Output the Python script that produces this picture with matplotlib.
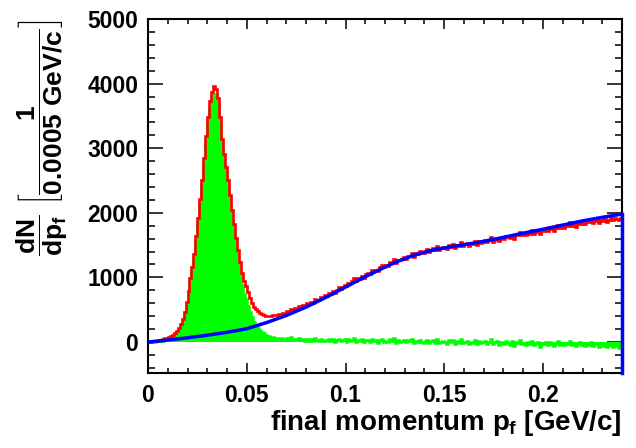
import numpy as np
import matplotlib
matplotlib.use("Agg")
import matplotlib.pyplot as plt
from matplotlib.ticker import MultipleLocator, FixedLocator, FixedFormatter

plt.rcParams['font.family'] = ['Liberation Sans', 'DejaVu Sans']
plt.rcParams['font.weight'] = 'bold'
plt.rcParams['mathtext.fontset'] = 'custom'
plt.rcParams['mathtext.rm'] = 'Liberation Sans:bold'
plt.rcParams['mathtext.it'] = 'Liberation Sans:bold'
plt.rcParams['mathtext.bf'] = 'Liberation Sans:bold'

# ---------------- data ----------------
bin_width = 0.001
x_min, x_max = 0.0, 0.24

# total spectrum (red), per bin of 0.001 GeV/c starting at 0
red_counts = [
    2, 6, 10, 16, 22, 28, 36, 44, 56, 68,
    82, 97, 114, 137, 171, 214, 273, 356, 470, 623,
    797, 991, 1155, 1369, 1643, 1927, 2211, 2515, 2849, 3183,
    3487, 3732, 3876, 3961, 3920, 3780, 3484, 3139, 2903, 2708,
    2503, 2278, 2044, 1819, 1615, 1430, 1246, 1071, 937, 862,
    770, 679, 609, 548, 508, 477, 452, 436, 421, 410,
    406, 405, 408, 413, 416, 423, 427, 441, 444, 453,
    476, 467, 514, 485, 520, 505, 552, 541, 566, 553,
    596, 581, 622, 605, 664, 653, 646, 703, 690, 721,
    708, 760, 750, 786, 764, 810, 848, 824, 854, 884,
    862, 918, 906, 940, 984, 938, 984, 982, 1028, 998,
    1046, 1069, 1047, 1112, 1094, 1119, 1101, 1158, 1186, 1157,
    1189, 1175, 1235, 1219, 1289, 1224, 1274, 1266, 1288, 1316,
    1290, 1331, 1326, 1373, 1322, 1370, 1363, 1406, 1377, 1372,
    1412, 1435, 1393, 1425, 1454, 1421, 1482, 1419, 1453, 1468,
    1452, 1437, 1497, 1476, 1515, 1456, 1497, 1486, 1546, 1483,
    1510, 1531, 1486, 1529, 1515, 1568, 1501, 1559, 1532, 1553,
    1583, 1541, 1575, 1624, 1552, 1586, 1608, 1561, 1615, 1601,
    1597, 1642, 1626, 1603, 1657, 1600, 1660, 1649, 1699, 1650,
    1676, 1652, 1704, 1672, 1726, 1666, 1702, 1730, 1666, 1718,
    1712, 1753, 1715, 1774, 1742, 1723, 1769, 1804, 1758, 1781,
    1761, 1812, 1792, 1853, 1793, 1826, 1786, 1831, 1865, 1822,
    1848, 1827, 1875, 1852, 1904, 1837, 1873, 1894, 1844, 1881,
    1874, 1911, 1858, 1895, 1934, 1885, 1922, 1903, 1882, 1923,
]

# background-subtracted peak (green)
green_counts = [
    0, 1, 3, 5, 8, 12, 16, 22, 30, 40,
    50, 62, 75, 95, 125, 165, 220, 300, 410, 560,
    730, 920, 1080, 1290, 1560, 1840, 2120, 2420, 2750, 3080,
    3380, 3620, 3760, 3840, 3830, 3650, 3350, 3000, 2760, 2560,
    2350, 2120, 1880, 1650, 1440, 1250, 1060, 880, 740, 660,
    560, 460, 380, 310, 260, 220, 185, 160, 135, 115,
    100, 88, 80, 74, 66, 62, 55, 58, 50, 48,
    60, 38, 72, 30, 52, 24, 58, 34, 46, 20,
    48, 18, 44, 12, 56, 30, 8, 50, 22, 38,
    10, 46, 20, 40, 2, 32, 54, 14, 28, 42,
    4, 44, 16, 34, 62, 0, 30, 12, 42, -4,
    28, 36, -2, 48, 14, 24, -10, 32, 44, 0,
    22, -6, 40, 10, 66, -12, 26, 6, 16, 32,
    -6, 24, 8, 44, -18, 20, 4, 38, 0, -14,
    18, 34, -16, 8, 30, -10, 46, -22, 6, 16,
    -6, -26, 28, 2, 36, -28, 8, -8, 48, -20,
    2, 18, -32, 6, -14, 34, -38, 14, -18, -2,
    22, -26, 2, 44, -34, -6, 10, -44, 4, -16,
    -26, 12, -10, -40, 8, -56, -2, -20, 24, -32,
    -12, -42, 4, -34, 14, -52, -22, 0, -70, -24,
    -36, -2, -46, 6, -32, -58, -18, 10, -42, -26,
    -52, -8, -34, 20, -46, -20, -66, -28, 0, -50,
    -30, -56, -14, -42, 4, -68, -38, -22, -78, -46,
    -58, -26, -84, -52, -18, -72, -40, -64, -90, -54,
]

# background fit (blue)
blue_x = [0.00, 0.01, 0.02, 0.03, 0.04, 0.05, 0.06, 0.07, 0.08, 0.09,
          0.10, 0.11, 0.12, 0.125, 0.13, 0.135, 0.14, 0.145, 0.15, 0.155,
          0.16, 0.17, 0.18, 0.19, 0.20, 0.21, 0.22, 0.23, 0.24]
blue_y = [0, 30, 65, 105, 150, 205, 300, 410, 540, 690,
          850, 1010, 1160, 1230, 1290, 1345, 1390, 1428, 1455, 1482,
          1505, 1558, 1620, 1685, 1745, 1810, 1875, 1930, 1980]

x_ticks = [0, 0.05, 0.1, 0.15, 0.2]
x_tick_labels = ["0", "0.05", "0.1", "0.15", "0.2"]
y_ticks = [0, 1000, 2000, 3000, 4000, 5000]
y_tick_labels = ["0", "1000", "2000", "3000", "4000", "5000"]

# ---------------- figure ----------------
W, H = 636, 448
fig = plt.figure(figsize=(W / 100, H / 100), dpi=100)
ax = fig.add_axes([148 / W, (H - 373) / H, (622 - 148) / W, (373 - 19) / H])

n_bins = len(red_counts)
edges = np.linspace(x_min, x_min + n_bins * bin_width, n_bins + 1)

ax.stairs(green_counts, edges, fill=True, baseline=0, color='#00ff00', zorder=2)
ax.stairs(green_counts, edges, baseline=None, color='#00ff00', lw=1.8, zorder=2)
ax.stairs(red_counts, edges, baseline=None, color='#ff0000', lw=1.9, zorder=3)
ax.plot(blue_x, blue_y, color='#0000ff', lw=2.5, zorder=4, solid_capstyle='butt')
ylo, yhi = -480, 5000
ax.plot([blue_x[-1], blue_x[-1]], [ylo, blue_y[-1]], color='#0000ff', lw=2.5,
        zorder=5, clip_on=False)

ax.set_xlim(x_min, x_max)
ax.set_ylim(ylo, yhi)

ax.xaxis.set_major_locator(FixedLocator(x_ticks))
ax.xaxis.set_major_formatter(FixedFormatter(x_tick_labels))
ax.xaxis.set_minor_locator(MultipleLocator(0.01))
ax.yaxis.set_major_locator(FixedLocator(y_ticks))
ax.yaxis.set_major_formatter(FixedFormatter(y_tick_labels))
ax.yaxis.set_minor_locator(MultipleLocator(200))

for s in ax.spines.values():
    s.set_linewidth(1.5)
    s.set_color('black')

ax.tick_params(axis='both', which='both', direction='in', top=True, right=True,
               colors='black', width=1.1)
ax.tick_params(axis='x', which='major', length=7.2, pad=8, labelsize=16.5)
ax.tick_params(axis='x', which='minor', length=3.6)
ax.tick_params(axis='y', which='major', length=10.8, pad=7, labelsize=16.5)
ax.tick_params(axis='y', which='minor', length=5.2)
for lab in ax.get_xticklabels() + ax.get_yticklabels():
    lab.set_fontweight('bold')

fig.text(622 / W, (H - 430) / H, r'final momentum $p_{f}$ [GeV/c]',
         ha='right', va='baseline', fontsize=20, fontweight='bold')

fig.text(42 / W, (H - 19) / H,
         r'$\dfrac{dN}{dp_{f}}\ \left[\dfrac{1}{0.0005\ GeV/c}\right]$',
         rotation=90, ha='center', va='top', fontsize=19, fontweight='bold')

fig.savefig('out.png', dpi=100)
